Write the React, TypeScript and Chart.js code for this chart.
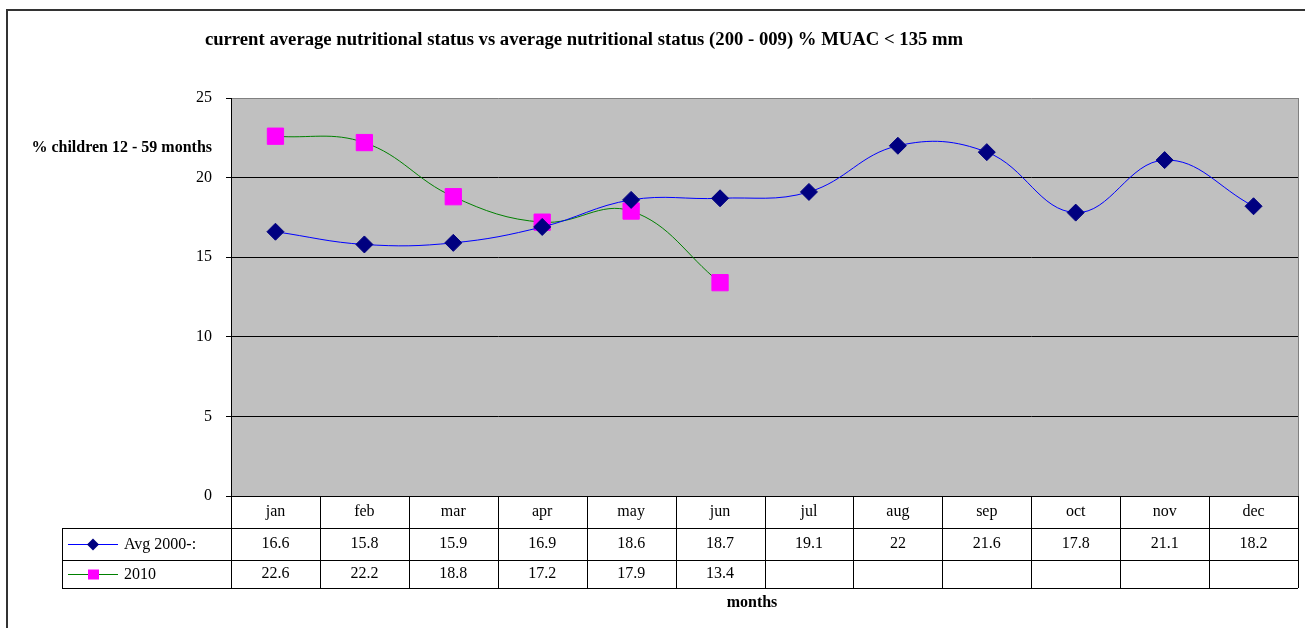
import React, { useEffect, useRef } from "react";
import { Chart, registerables } from "chart.js";

Chart.register(...registerables);

const months = ["jan", "feb", "mar", "apr", "may", "jun", "jul", "aug", "sep", "oct", "nov", "dec"];
const avgValues = [16.6, 15.8, 15.9, 16.9, 18.6, 18.7, 19.1, 22, 21.6, 17.8, 21.1, 18.2];
const values2010: (number | null)[] = [22.6, 22.2, 18.8, 17.2, 17.9, 13.4, null, null, null, null, null, null];
const seriesNames = ["Avg 2000-:", "2010"];
const yMin = 0;
const yMax = 25;
const yStep = 5;
const chartTitle = "current average nutritional status vs average nutritional status (200 - 009) % MUAC < 135 mm";
const yTitle = "% children 12 - 59 months";
const xTitle = "months";

const FONT = "Liberation Serif, 'Times New Roman', serif";

const fmt = (v: number | null) => (v === null ? "" : String(v));

const decorPlugin = {
  id: "decor",
  beforeDraw(chart: any) {
    const { ctx, chartArea: a } = chart;
    ctx.save();
    ctx.fillStyle = "#FFFFFF";
    ctx.fillRect(0, 0, chart.width, chart.height);
    ctx.fillStyle = "#C0C0C0";
    ctx.fillRect(a.left, a.top, a.right - a.left, a.bottom - a.top);
    // outer frame
    ctx.strokeStyle = "#333333";
    ctx.lineWidth = 2;
    ctx.beginPath();
    ctx.moveTo(7, chart.height + 2);
    ctx.lineTo(7, 10);
    ctx.lineTo(chart.width + 2, 10);
    ctx.stroke();
    ctx.restore();
  },
  beforeDatasetsDraw(chart: any) {
    const { ctx, chartArea: a } = chart;
    ctx.save();
    ctx.strokeStyle = "#808080";
    ctx.lineWidth = 1;
    ctx.beginPath();
    ctx.moveTo(Math.round(a.right) + 0.5, a.top);
    ctx.lineTo(Math.round(a.right) + 0.5, a.bottom);
    ctx.stroke();
    ctx.restore();
  },
  afterDraw(chart: any) {
    const { ctx, chartArea: a } = chart;
    const xs = chart.scales.x;
    const n = months.length;
    const colW = (a.right - a.left) / n;
    const legendLeft = 62;
    const hTop = a.bottom;
    const hBot = hTop + 32;
    const r1Bot = hBot + 32;
    const r2Bot = r1Bot + 28;
    const px = (v: number) => Math.round(v) + 0.5;
    ctx.save();
    ctx.strokeStyle = "#000000";
    ctx.lineWidth = 1;
    ctx.beginPath();
    for (let i = 0; i <= n; i++) {
      const x = px(a.left + i * colW);
      ctx.moveTo(x, hTop);
      ctx.lineTo(x, r2Bot);
    }
    ctx.moveTo(px(legendLeft), hBot);
    ctx.lineTo(px(legendLeft), r2Bot);
    [hBot, r1Bot, r2Bot].forEach((y) => {
      ctx.moveTo(legendLeft, px(y));
      ctx.lineTo(a.right, px(y));
    });
    ctx.stroke();

    ctx.fillStyle = "#000000";
    ctx.font = `16px ${FONT}`;
    ctx.textAlign = "center";
    ctx.textBaseline = "middle";
    months.forEach((m, i) => {
      const x = xs.getPixelForValue(i);
      ctx.fillText(m, x, (hTop + hBot) / 2);
      ctx.fillText(fmt(avgValues[i]), x, (hBot + r1Bot) / 2);
      ctx.fillText(fmt(values2010[i]), x, (r1Bot + r2Bot) / 2);
    });

    // legend keys
    const keys = [
      { y: (hBot + r1Bot) / 2, line: "#0000FF", marker: "#000080", shape: "diamond" },
      { y: (r1Bot + r2Bot) / 2, line: "#008000", marker: "#FF00FF", shape: "square" },
    ];
    keys.forEach((k, i) => {
      const y = Math.round(k.y) + 0.5;
      ctx.strokeStyle = k.line;
      ctx.beginPath();
      ctx.moveTo(68, y);
      ctx.lineTo(118, y);
      ctx.stroke();
      ctx.fillStyle = k.marker;
      if (k.shape === "diamond") {
        ctx.beginPath();
        ctx.moveTo(93, y - 6);
        ctx.lineTo(99, y);
        ctx.lineTo(93, y + 6);
        ctx.lineTo(87, y);
        ctx.closePath();
        ctx.fill();
      } else {
        ctx.fillRect(88, y - 5, 11, 10);
      }
      ctx.fillStyle = "#000000";
      ctx.textAlign = "left";
      ctx.fillText(seriesNames[i], 124, k.y + 1);
    });

    // titles
    ctx.font = `bold 18.7px ${FONT}`;
    ctx.textAlign = "center";
    ctx.fillText(chartTitle, 584, 40);
    ctx.font = `bold 16px ${FONT}`;
    ctx.textAlign = "right";
    ctx.fillText(yTitle, 212, 148);
    ctx.textAlign = "center";
    ctx.fillText(xTitle, 752, 603);
    ctx.restore();
  },
};

export default function App() {
  const canvasRef = useRef<HTMLCanvasElement | null>(null);

  useEffect(() => {
    const canvas = canvasRef.current;
    if (!canvas) return;
    const chart = new Chart(canvas, {
      type: "line",
      data: {
        labels: months,
        datasets: [
          {
            label: seriesNames[0],
            data: avgValues,
            borderColor: "#0000FF",
            borderWidth: 1,
            backgroundColor: "#000080",
            pointStyle: "rectRot",
            pointRadius: 8.5,
            pointHoverRadius: 8.5,
            pointBackgroundColor: "#000080",
            pointBorderColor: "#000080",
            pointBorderWidth: 1,
            tension: 0.4,
            fill: false,
          },
          {
            label: seriesNames[1],
            data: values2010,
            borderColor: "#008000",
            borderWidth: 1,
            backgroundColor: "#FF00FF",
            pointStyle: "rect",
            pointRadius: 11.5,
            pointHoverRadius: 11.5,
            pointBackgroundColor: "#FF00FF",
            pointBorderColor: "#FF00FF",
            pointBorderWidth: 1,
            tension: 0.4,
            fill: false,
            spanGaps: false,
          },
        ],
      },
      options: {
        responsive: false,
        animation: false,
        devicePixelRatio: 1,
        layout: { autoPadding: false, padding: { left: 181, top: 98, right: 7, bottom: 132 } },
        plugins: {
          legend: { display: false },
          title: { display: false },
          tooltip: { enabled: false },
        },
        events: [],
        scales: {
          x: {
            type: "category",
            display: false,
            offset: true,
          },
          y: {
            min: yMin,
            max: yMax,
            afterFit: (s: any) => {
              s.width = 50;
            },
            ticks: {
              stepSize: yStep,
              padding: 14,
              color: "#000000",
              font: { family: FONT, size: 16 },
            },
            grid: {
              color: (c: any) => (c.tick && c.tick.value === yMax ? "#808080" : "#000000"),
              tickColor: "#000000",
              tickLength: 5,
              lineWidth: 1,
            },
            border: { color: "#000000", width: 1 },
          },
        },
      },
      plugins: [decorPlugin],
    });
    return () => chart.destroy();
  }, []);

  return (
    <div style={{ position: "absolute", left: 0, top: 0, width: 1305, height: 628 }}>
      <canvas ref={canvasRef} width={1305} height={628} style={{ display: "block" }} />
    </div>
  );
}
